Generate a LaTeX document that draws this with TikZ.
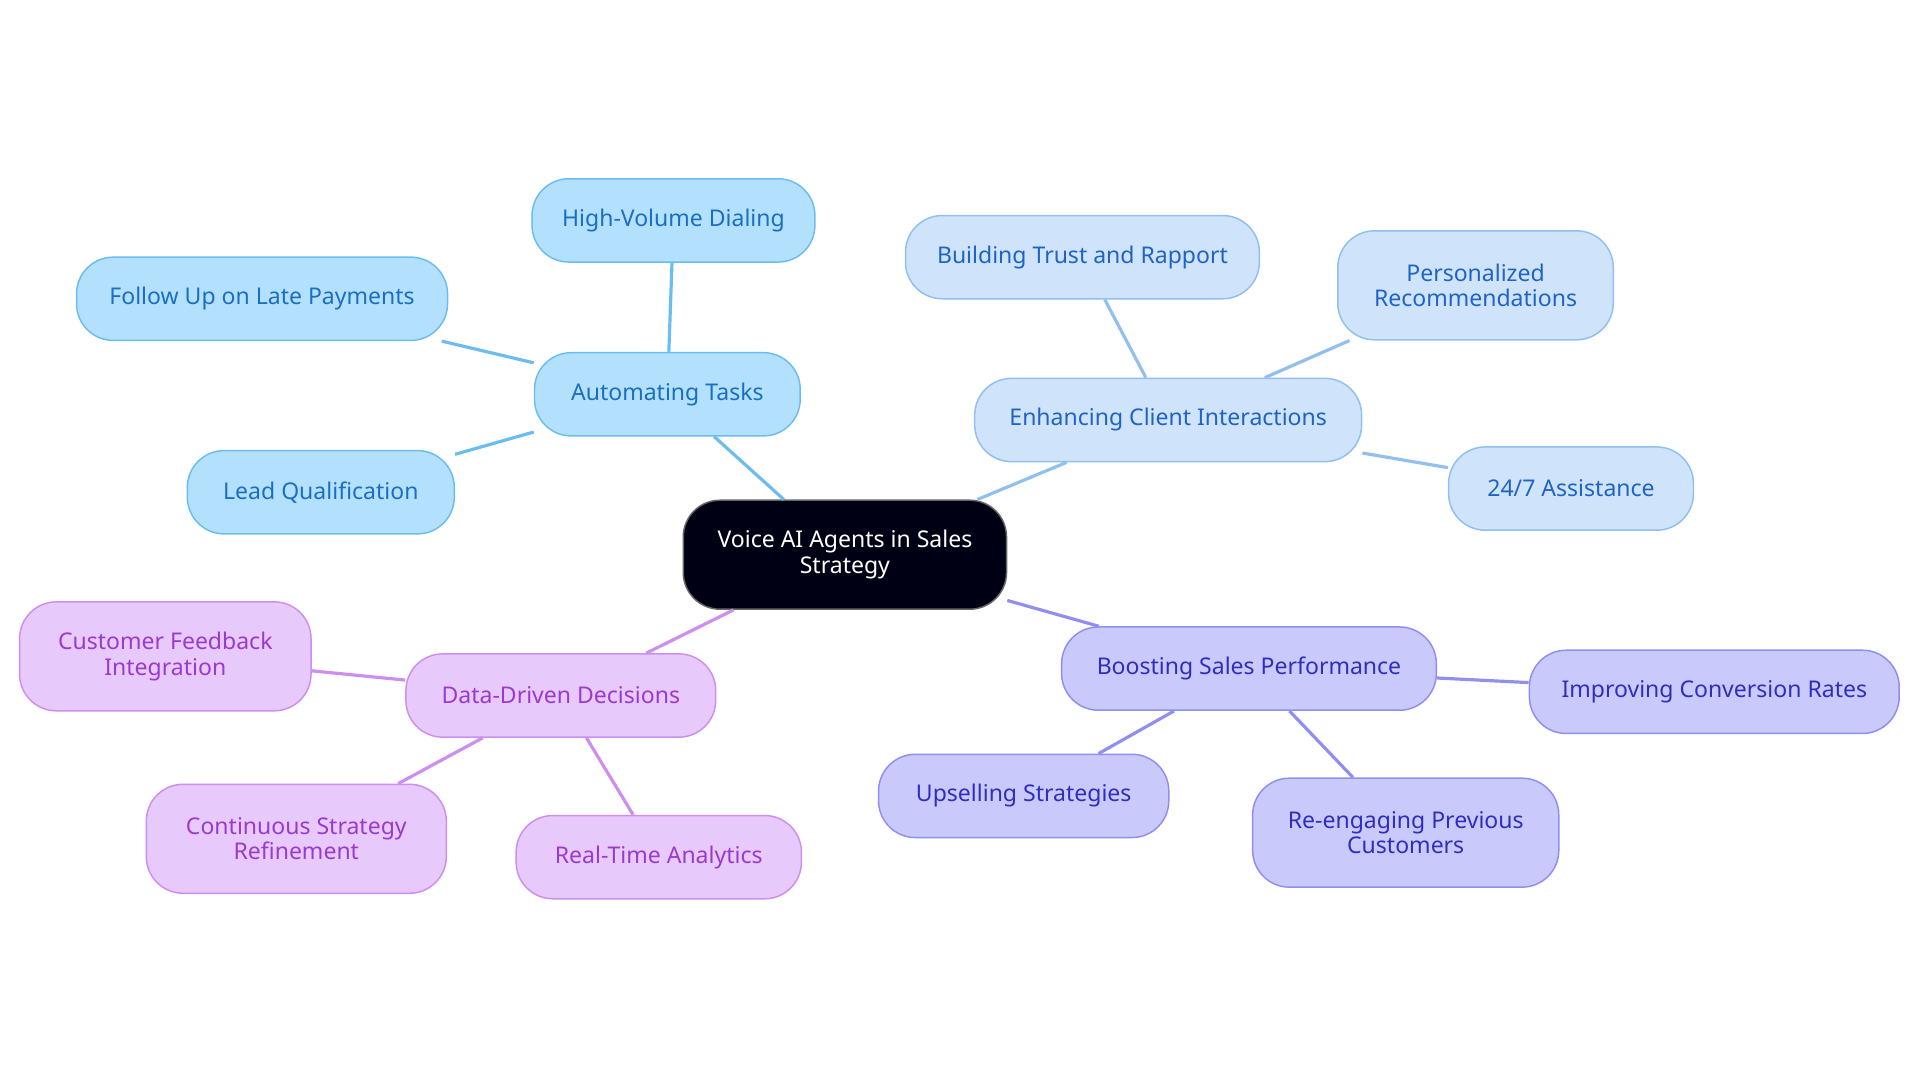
\documentclass[tikz,border=0pt]{standalone}
\usepackage{fontspec}
\setmainfont{Noto Sans}
\begin{document}
\begin{tikzpicture}[x=0.5pt,y=-0.5pt,
 base/.style={draw,line width=0.6pt,rounded corners=15pt,align=center,inner sep=0pt,font=\fontsize{9.4}{10.4}\selectfont},
 ctr/.style={base,fill=black!92!blue,draw=black!60,text=white},
 a/.style={base,fill=cyan!6!blue!2!white,fill={rgb,255:red,179;green,224;blue,253},draw={rgb,255:red,107;green,189;blue,240},text={rgb,255:red,26;green,111;blue,196}},
 b/.style={base,fill={rgb,255:red,207;green,227;blue,251},draw={rgb,255:red,144;green,191;blue,240},text={rgb,255:red,30;green,100;blue,200}},
 c/.style={base,fill={rgb,255:red,201;green,201;blue,251},draw={rgb,255:red,143;green,143;blue,239},text={rgb,255:red,46;green,46;blue,192}},
 d/.style={base,fill={rgb,255:red,232;green,201;blue,251},draw={rgb,255:red,204;green,143;blue,239},text={rgb,255:red,154;green,58;blue,208}},
 ea/.style={draw={rgb,255:red,107;green,189;blue,240},line width=1.3pt},
 eb/.style={draw={rgb,255:red,144;green,191;blue,240},line width=1.3pt},
 ec/.style={draw={rgb,255:red,143;green,143;blue,239},line width=1.3pt},
 ed/.style={draw={rgb,255:red,204;green,143;blue,239},line width=1.3pt}]
\useasboundingbox (0,0) rectangle (1568,884);
\node[ctr,minimum width=132pt,minimum height=44.5pt] (C) at (690,453) {Voice AI Agents in Sales\\Strategy};
\node[a,minimum width=108.5pt,minimum height=34pt] (A) at (545,322) {Automating Tasks};
\node[a,minimum width=115.5pt,minimum height=34pt] (A1) at (550,180) {High-Volume Dialing};
\node[a,minimum width=151.5pt,minimum height=34pt] (A2) at (214,244) {Follow Up on Late Payments};
\node[a,minimum width=109pt,minimum height=34pt] (A3) at (262,402) {Lead Qualification};
\node[b,minimum width=158pt,minimum height=34pt] (B) at (954,343) {Enhancing Client Interactions};
\node[b,minimum width=144.5pt,minimum height=34pt] (B1) at (884,210) {Building Trust and Rapport};
\node[b,minimum width=112.5pt,minimum height=44.5pt] (B2) at (1205,233) {Personalized\\Recommendations};
\node[b,minimum width=100pt,minimum height=34pt] (B3) at (1283,399) {24/7 Assistance};
\node[c,minimum width=153pt,minimum height=34pt] (S) at (1020,546) {Boosting Sales Performance};
\node[c,minimum width=151pt,minimum height=34pt] (S1) at (1400,565) {Improving Conversion Rates};
\node[c,minimum width=118.5pt,minimum height=34pt] (S2) at (836,650) {Upselling Strategies};
\node[c,minimum width=125pt,minimum height=44.5pt] (S3) at (1148,680) {Re-engaging Previous\\Customers};
\node[d,minimum width=126.5pt,minimum height=34pt] (D) at (458,568) {Data-Driven Decisions};
\node[d,minimum width=119pt,minimum height=44.5pt] (D1) at (135,536) {Customer Feedback\\Integration};
\node[d,minimum width=122.5pt,minimum height=44.5pt] (D2) at (242,685) {Continuous Strategy\\Refinement};
\node[d,minimum width=116.5pt,minimum height=34pt] (D3) at (538,700) {Real-Time Analytics};
\begin{scope}[on background layer/.try]
\end{scope}
\draw[ea] (C) -- (A); \draw[ea] (A) -- (A1); \draw[ea] (A) -- (A2); \draw[ea] (A) -- (A3);
\draw[eb] (C) -- (B); \draw[eb] (B) -- (B1); \draw[eb] (B) -- (B2); \draw[eb] (B) -- (B3);
\draw[ec] (C) -- (S); \draw[ec] (S) -- (S1); \draw[ec] (S) -- (S2); \draw[ec] (S) -- (S3);
\draw[ed] (C) -- (D); \draw[ed] (D) -- (D1); \draw[ed] (D) -- (D2); \draw[ed] (D) -- (D3);
\end{tikzpicture}
\end{document}
